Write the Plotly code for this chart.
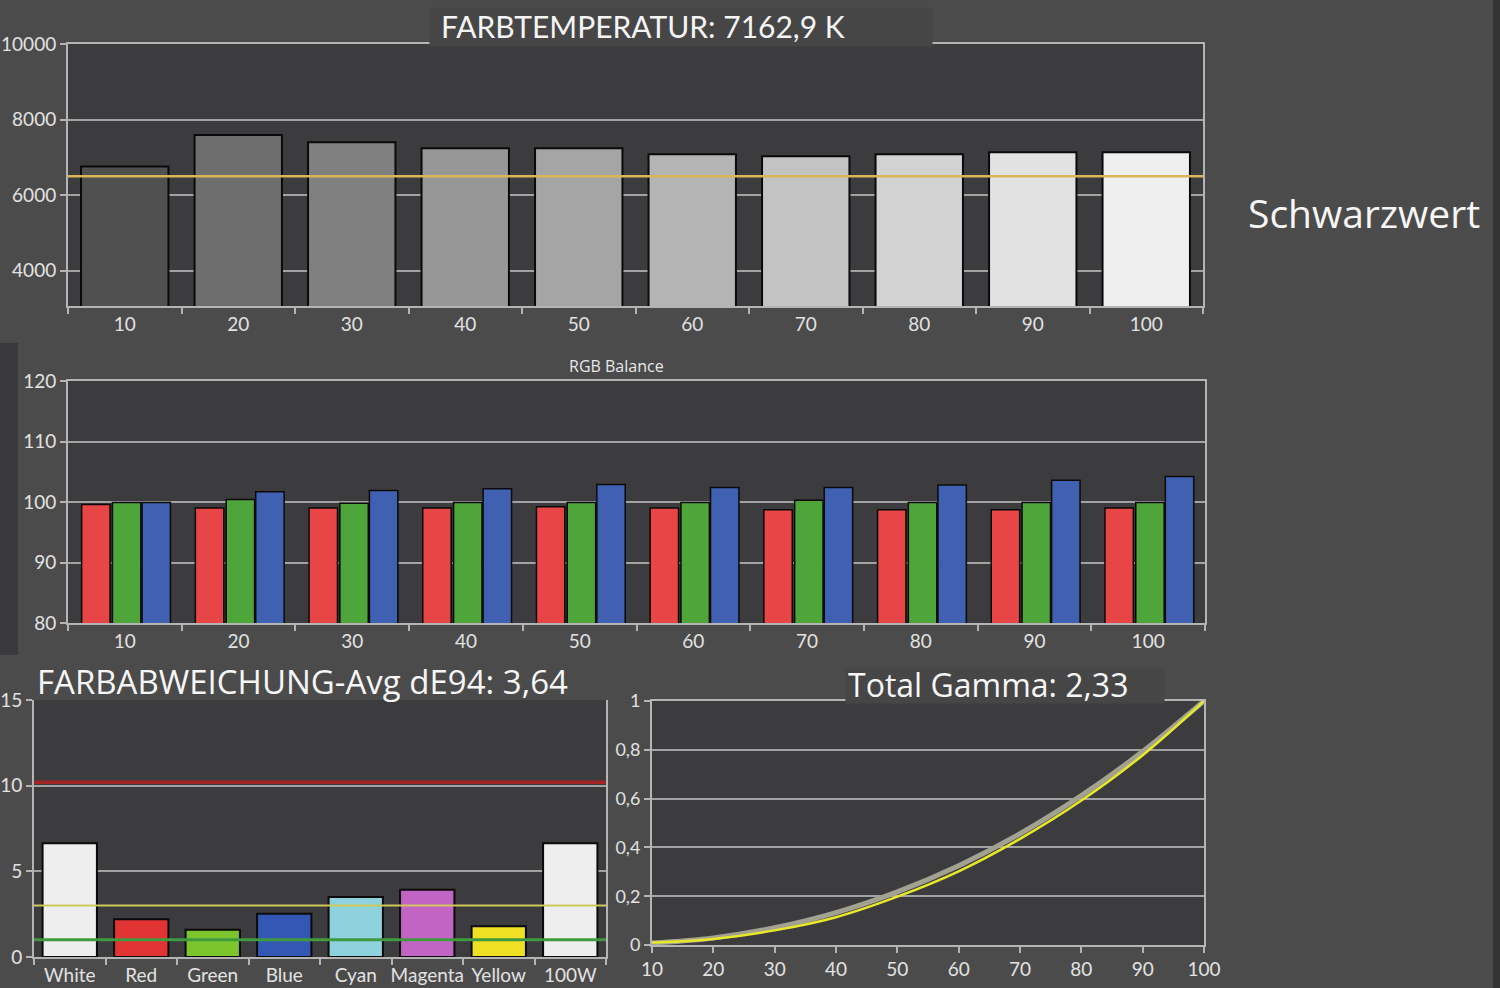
import plotly.graph_objects as go

# ---------------- data ----------------
levels = ['10', '20', '30', '40', '50', '60', '70', '80', '90', '100']
cct_values = [6760, 7590, 7400, 7245, 7245, 7085, 7030, 7085, 7140, 7140]
cct_target = 6500
cct_ticks = [4000, 6000, 8000, 10000]

rgb_red = [99.6, 99.0, 99.0, 99.0, 99.2, 99.0, 98.7, 98.7, 98.7, 99.0]
rgb_green = [99.9, 100.4, 99.8, 99.9, 99.9, 99.9, 100.3, 99.9, 99.9, 99.9]
rgb_blue = [99.9, 101.7, 101.9, 102.2, 102.9, 102.4, 102.4, 102.8, 103.6, 104.2]
rgb_ticks = [80, 90, 100, 110, 120]

de_names = ['White', 'Red', 'Green', 'Blue', 'Cyan', 'Magenta', 'Yellow', '100W']
de_values = [6.64, 2.21, 1.59, 2.52, 3.50, 3.92, 1.79, 6.64]
de_limit_red = 10.2
de_limit_yellow = 3
de_limit_green = 1
de_ticks = [0, 5, 10, 15]

gamma_x = [10, 20, 30, 40, 50, 60, 70, 80, 90, 100]
gamma_measured = [0.010, 0.025, 0.060, 0.114, 0.198, 0.302, 0.435, 0.592, 0.778, 1.0]
gamma_reference = [0.008, 0.029, 0.071, 0.133, 0.218, 0.325, 0.456, 0.612, 0.793, 1.0]
gamma_tickvals = [0, 0.2, 0.4, 0.6, 0.8, 1]
gamma_ticktext = ['0', '0,2', '0,4', '0,6', '0,8', '1']

title_cct = 'FARBTEMPERATUR: 7162,9 K'
title_rgb = 'RGB Balance'
title_de = 'FARBABWEICHUNG-Avg dE94: 3,64'
title_gamma = 'Total Gamma: 2,33'
side_label = 'Schwarzwert'

# ---------------- styling ----------------
W, H = 1500, 988
PAPER = '#4b4b4b'
PLOT = '#3c3c3e'
LINE = '#b4b4b4'
GRID = '#a2a2a2'
TICKC = '#e2e2e2'
FONT = 'Lato, Open Sans, sans-serif'

cct_colors = ['#505050', '#6e6e6e', '#808080', '#979797', '#a5a5a5',
              '#b4b4b4', '#c3c3c3', '#d2d2d2', '#e2e2e2', '#efefef']
de_colors = ['#eeeeee', '#e23434', '#7cc52c', '#3358b4', '#8dd2dc',
             '#c264c4', '#f0e024', '#eeeeee']


def px(x):
    return x / W


def py(y):
    return 1 - y / H


fig = go.Figure()

# top: colour temperature
fig.add_trace(go.Bar(x=levels, y=cct_values, width=0.77,
                     marker=dict(color=cct_colors, line=dict(color='#0a0a0a', width=2)),
                     xaxis='x', yaxis='y', showlegend=False))

# RGB balance
for vals, col, off in [(rgb_red, '#e84646', -0.38), (rgb_green, '#4ea63a', -0.109),
                       (rgb_blue, '#4060b2', 0.151)]:
    fig.add_trace(go.Bar(x=levels, y=vals, width=0.25, offset=off, base=0,
                         marker=dict(color=col, line=dict(color='#0a0a0a', width=1.5)),
                         xaxis='x2', yaxis='y2', showlegend=False))

# colour deviation
fig.add_trace(go.Bar(x=de_names, y=de_values, width=0.76,
                     marker=dict(color=de_colors, line=dict(color='#0a0a0a', width=2)),
                     xaxis='x3', yaxis='y3', showlegend=False))

# gamma
fig.add_trace(go.Scatter(x=gamma_x, y=gamma_reference, mode='lines',
                         line=dict(color='#a3a192', width=5, shape='spline'),
                         xaxis='x4', yaxis='y4', showlegend=False))
fig.add_trace(go.Scatter(x=gamma_x, y=gamma_measured, mode='lines',
                         line=dict(color='#e8e82a', width=2.5, shape='spline'),
                         xaxis='x4', yaxis='y4', showlegend=False))

common_axis = dict(showline=True, mirror=True, linecolor=LINE, linewidth=2,
                   ticks='outside', ticklen=6, tickwidth=2, tickcolor=LINE,
                   zeroline=False, tickangle=0, automargin=False,
                   tickfont=dict(family=FONT, size=19, color=TICKC))

fig.update_layout(
    width=W, height=H, autosize=False,
    margin=dict(l=0, r=0, t=0, b=0, pad=0),
    paper_bgcolor=PAPER, plot_bgcolor=PLOT,
    barmode='overlay',
    xaxis=dict(domain=[px(68), px(1203)], anchor='y', type='category',
               tickson='boundaries', showgrid=False, **common_axis),
    yaxis=dict(domain=[py(306), py(44)], anchor='x', range=[3070, 10000],
               tickvals=cct_ticks, tickformat='d', showgrid=True,
               gridcolor=GRID, gridwidth=2, **common_axis),
    xaxis2=dict(domain=[px(68), px(1205)], anchor='y2', type='category',
                tickson='boundaries', showgrid=False, **common_axis),
    yaxis2=dict(domain=[py(623), py(381)], anchor='x2', range=[80, 120],
                tickvals=rgb_ticks, showgrid=True, gridcolor=GRID, gridwidth=2,
                **common_axis),
    xaxis3=dict(domain=[px(34), px(606)], anchor='y3', type='category',
                tickson='boundaries', showgrid=False,
                **{**common_axis, 'mirror': False,
                   'tickfont': dict(family=FONT, size=19, color=TICKC)}),
    yaxis3=dict(domain=[py(957), py(700)], anchor='x3', range=[0, 15],
                tickvals=de_ticks, showgrid=True, gridcolor=GRID, gridwidth=2,
                **common_axis),
    xaxis4=dict(domain=[px(652), px(1204)], anchor='y4', range=[10, 100],
                dtick=10, showgrid=False, **common_axis),
    yaxis4=dict(domain=[py(945), py(701)], anchor='x4', range=[0, 1],
                tickvals=gamma_tickvals, ticktext=gamma_ticktext, showgrid=True,
                gridcolor=GRID, gridwidth=2, **{**common_axis,
                'tickfont': dict(family=FONT, size=18, color=TICKC)}),
)

shapes = [
    # dark side panels
    dict(type='rect', xref='paper', yref='paper', x0=0, x1=px(18), y0=py(655), y1=py(343),
         fillcolor='#3a3a3c', line=dict(width=0), layer='below'),
    dict(type='rect', xref='paper', yref='paper', x0=px(1493), x1=1, y0=0, y1=1,
         fillcolor='#343434', line=dict(width=0), layer='below'),
    # target line colour temperature
    dict(type='line', xref='x domain', yref='y', x0=0, x1=1, y0=cct_target, y1=cct_target,
         line=dict(color='#d9b555', width=2.5), layer='above'),
    # dE limit lines
    dict(type='line', xref='x3 domain', yref='y3', x0=0, x1=1, y0=de_limit_red, y1=de_limit_red,
         line=dict(color='#a02424', width=3.5), layer='above'),
    dict(type='line', xref='x3 domain', yref='y3', x0=0, x1=1, y0=de_limit_yellow,
         y1=de_limit_yellow, line=dict(color='#cfc85a', width=2), layer='above'),
    dict(type='line', xref='x3 domain', yref='y3', x0=0, x1=1, y0=de_limit_green,
         y1=de_limit_green, line=dict(color='#3f9a3f', width=3), layer='above'),
]
fig.update_layout(shapes=shapes)

annotations = [
    # title boxes covering the frame lines
    dict(xref='paper', yref='paper', x=px(681), y=py(27), text=' ', showarrow=False,
         width=502, height=38, bgcolor='#464646', xanchor='center', yanchor='middle',
         borderpad=0),
    dict(xref='paper', yref='paper', x=px(1005), y=py(686), text=' ', showarrow=False,
         width=318, height=34, bgcolor='#464646', xanchor='center', yanchor='middle',
         borderpad=0),
    dict(xref='paper', yref='paper', x=px(643), y=py(26), text=title_cct, showarrow=False,
         xanchor='center', yanchor='middle',
         font=dict(family=FONT, size=30, color='#f4f4f4')),
    dict(xref='paper', yref='paper', x=px(616), y=py(366), text=title_rgb, showarrow=False,
         xanchor='center', yanchor='middle',
         font=dict(family='Open Sans, sans-serif', size=16, color='#e8e8e8')),
    dict(xref='paper', yref='paper', x=px(35), y=py(681), text=title_de, showarrow=False,
         xanchor='left', yanchor='middle',
         font=dict(family='Open Sans, sans-serif', size=33, color='#f6f6f6')),
    dict(xref='paper', yref='paper', x=px(988), y=py(684), text=title_gamma, showarrow=False,
         xanchor='center', yanchor='middle',
         font=dict(family='Open Sans, sans-serif', size=32, color='#f6f6f6')),
    dict(xref='paper', yref='paper', x=px(1364), y=py(212), text=side_label, showarrow=False,
         xanchor='center', yanchor='middle',
         font=dict(family='Open Sans, sans-serif', size=39, color='#f6f6f6')),
]
fig.update_layout(annotations=annotations)

fig.write_html('out.html', config={'displayModeBar': False},
               post_script="document.body.style.margin='0';document.body.style.overflow='hidden';")
